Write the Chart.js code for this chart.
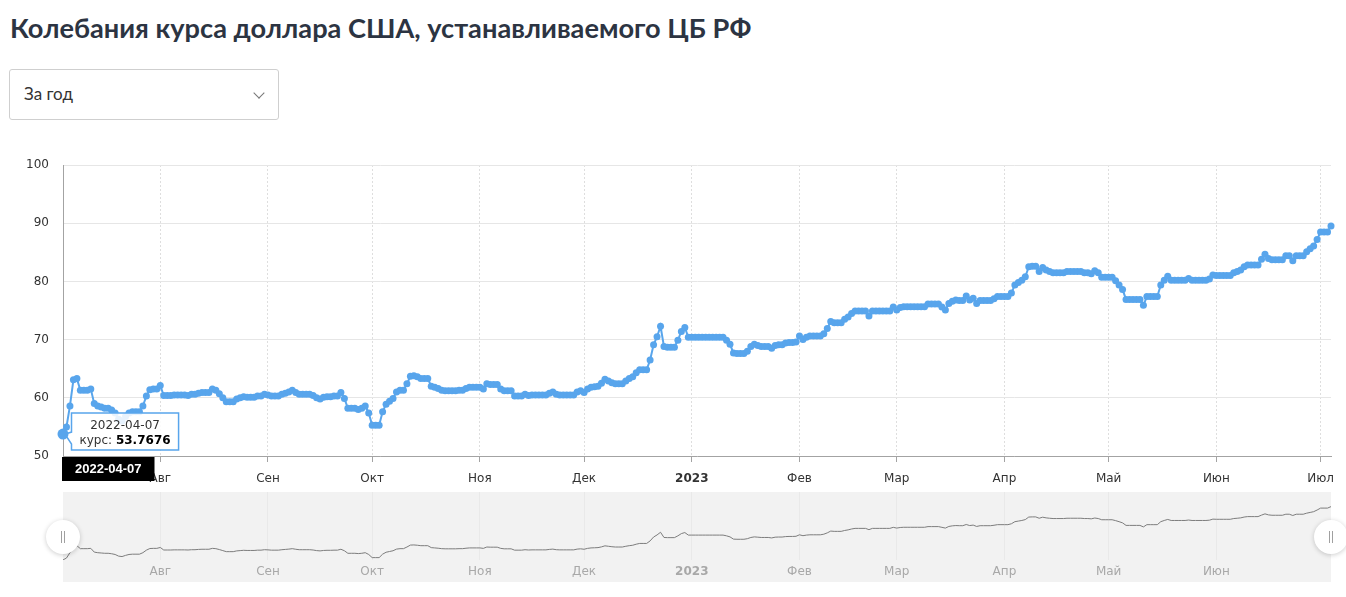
<!DOCTYPE html>
<html lang="ru">
<head>
<meta charset="utf-8">
<title>Колебания курса доллара США</title>
<script src="https://cdn.jsdelivr.net/npm/chart.js@4.4.1/dist/chart.umd.min.js"></script>
<style>
  html, body { margin: 0; padding: 0; background: #fff; }
  body { width: 1346px; height: 597px; position: relative; overflow: hidden; }
  h1 {
    position: absolute; left: 10px; top: 11px; margin: 0;
    font: 700 27.2px Lato, sans-serif; color: #2c3442; white-space: nowrap;
  }
  .period {
    position: absolute; left: 9px; top: 69px; width: 268px; height: 49px;
    border: 1px solid #cfcfcf; border-radius: 3px;
    font: 17px Lato, sans-serif; color: #333;
  }
  .period span { position: absolute; left: 14px; top: 13px; }
  .period i {
    position: absolute; left: 245px; top: 19px; width: 7px; height: 7px;
    border-right: 1px solid #777; border-bottom: 1px solid #777;
    transform: rotate(45deg);
  }
  #mainWrap { position: absolute; left: 0; top: 150px; }
  #navWrap { position: absolute; left: 0; top: 485px; }
</style>
</head>
<body>
<h1>Колебания курса доллара США, устанавливаемого ЦБ РФ</h1>
<div class="period"><span>За год</span><i></i></div>
<div id="mainWrap"><canvas id="rateChart" width="1346" height="340"></canvas></div>
<div id="navWrap"><canvas id="navChart" width="1346" height="112"></canvas></div>
<script>
// курс USD, ЦБ РФ, по дням начиная с 04.07.2022
const startDate = Date.UTC(2022, 6, 4);
const jul22 = [53.7676, 55.0, 58.6, 63.1, 63.3, 61.3, 61.3, 61.3, 61.5, 59.0, 58.6, 58.4, 58.2, 58.2,
    57.9, 57.4, 56.3, 56.0, 56.8, 57.4, 57.6, 57.6, 57.6, 58.6, 60.3, 61.4, 61.5, 61.5];
const aug22 = [62.1, 60.4, 60.4, 60.4, 60.5, 60.5, 60.5, 60.5, 60.4, 60.6, 60.6, 60.8, 60.9, 60.9, 60.9, 61.5,
    61.3, 60.7, 60.0, 59.3, 59.3, 59.3, 59.8, 60.0, 60.2, 60.1, 60.1, 60.1, 60.3, 60.3, 60.6];
const sep22 = [60.5, 60.3, 60.3, 60.3, 60.6, 60.8, 61.0, 61.3, 60.9, 60.6, 60.6, 60.6, 60.6, 60.4, 60.0,
    59.8, 60.1, 60.2, 60.2, 60.3, 60.3, 60.9, 59.9, 58.2, 58.2, 58.2, 58.0, 58.2, 58.6, 57.4];
const oct22 = [55.3, 55.3, 55.3, 57.6, 58.9, 59.4, 59.9, 61.0, 61.3, 61.3, 62.4, 63.7, 63.8, 63.6, 63.3, 63.3,
    63.3, 62.0, 61.8, 61.6, 61.3, 61.2, 61.2, 61.2, 61.2, 61.3, 61.3, 61.6, 61.8, 61.8, 61.8];
const nov22 = [61.8, 61.5, 62.4, 62.3, 62.3, 62.3, 61.5, 61.2, 61.2, 61.2, 60.3, 60.3, 60.3, 60.6, 60.4,
    60.5, 60.5, 60.5, 60.5, 60.5, 60.8, 61.0, 60.6, 60.5, 60.5, 60.5, 60.5, 60.5, 61.0, 61.2];
const dec22 = [60.9, 61.5, 61.8, 61.9, 62.0, 62.5, 63.2, 62.9, 62.6, 62.4, 62.4, 62.4, 62.9, 63.3, 63.6, 64.3,
    64.8, 64.8, 64.8, 66.5, 69.1, 70.5, 72.3, 68.8, 68.7, 68.7, 68.7, 69.9, 71.4, 72.1, 70.4];
const jan23 = [70.4, 70.4, 70.4, 70.4, 70.4, 70.4, 70.4, 70.4, 70.4, 70.4, 69.9, 69.2, 67.7, 67.6, 67.6, 67.6,
    68.0, 68.8, 69.2, 69.0, 68.8, 68.8, 68.8, 68.5, 69.0, 69.1, 69.1, 69.4, 69.5, 69.5, 69.6];
const feb23 = [70.6, 70.0, 70.4, 70.6, 70.6, 70.6, 70.6, 71.0, 71.9, 73.1, 72.9, 72.9, 72.9, 73.5, 73.9, 74.5,
    74.9, 74.9, 74.9, 74.9, 74.05, 74.9, 74.9, 74.9, 74.9, 74.9, 74.9, 75.6];
const mar23 = [75.1, 75.5, 75.65, 75.65, 75.65, 75.65, 75.65, 75.65, 75.65, 76.1, 76.1, 76.1, 76.1, 75.6, 75.1,
    76.2, 76.6, 76.8, 76.7, 76.7, 77.5, 76.8, 77.1, 76.2, 76.7, 76.7, 76.7, 76.7, 77.0, 77.4, 77.4];
const apr23 = [77.4, 77.4, 78.0, 79.4, 79.8, 80.2, 80.8, 82.5, 82.6, 82.6, 81.7, 82.4, 81.95, 81.7, 81.5,
    81.5, 81.5, 81.5, 81.7, 81.7, 81.7, 81.7, 81.7, 81.5, 81.5, 81.3, 81.85, 81.5, 80.7, 80.7];
const may23 = [80.7, 80.7, 80.1, 79.4, 78.6, 76.9, 76.9, 76.9, 76.9, 76.9, 75.9, 77.4, 77.4, 77.4, 77.4, 79.4,
    80.2, 80.9, 80.2, 80.2, 80.2, 80.2, 80.2, 80.5, 80.2, 80.2, 80.2, 80.2, 80.2, 80.4, 81.1];
const jun23 = [81.0, 81.0, 81.0, 81.0, 81.0, 81.5, 81.7, 81.95, 82.5, 82.8, 82.8, 82.8, 82.8, 83.8, 84.65,
    83.95, 83.7, 83.7, 83.7, 83.7, 84.4, 84.4, 83.55, 84.4, 84.4, 84.4, 85.1, 85.6, 86.1, 87.2];
const jul23 = [88.5, 88.5, 88.5, 89.5];

// начало месяцев (номер дня от startDate) и подписи
const monthTicks = [28, 59, 89, 120, 150, 181, 212, 240, 271, 301, 332, 362];
const monthLabels = ['Авг', 'Сен', 'Окт', 'Ноя', 'Дек', '2023', 'Фев', 'Мар', 'Апр', 'Май', 'Июн', 'Июл'];
const navTicks = monthTicks.slice(0, 11);
const navLabels = monthLabels.slice(0, 11);
const yTicks = [50, 60, 70, 80, 90, 100];

const rates = [].concat(jul22, aug22, sep22, oct22, nov22, dec22, jan23, feb23, mar23, apr23, may23, jun23, jul23);
const points = rates.map((v, i) => ({ x: i, y: v }));
const lastDay = rates.length - 1;
const HOVER = 0;

const BLUE = '#58a5ec';
const AXIS_FONT = 'DejaVu Sans';

function pad2(n) { return String(n).padStart(2, '0'); }
// на сайте дата выводится как ГГГГ-ДД-ММ
function fmtDate(i) {
    const d = new Date(startDate + i * 86400000);
    return `${d.getUTCFullYear()}-${pad2(d.getUTCDate())}-${pad2(d.getUTCMonth() + 1)}`;
}

const hoverPlugin = {
    id: 'hoverInfo',
    afterDraw(chart) {
        const { ctx, chartArea } = chart;
        const pt = chart.getDatasetMeta(0).data[HOVER];
        const px = pt.x, py = pt.y;
        const dateText = fmtDate(HOVER);

        ctx.save();
        // подпись перекрестия под осью
        ctx.font = `bold 13px "Liberation Sans", Arial, sans-serif`;
        const lw = ctx.measureText(dateText).width + 26;
        const lx = Math.max(px - lw / 2, chartArea.left - 1);
        ctx.fillStyle = '#000';
        ctx.fillRect(lx, chartArea.bottom + 1, lw, 24);
        ctx.fillStyle = '#fff';
        ctx.textAlign = 'center';
        ctx.textBaseline = 'middle';
        ctx.fillText(dateText, lx + lw / 2, chartArea.bottom + 13.5);

        // всплывающая подсказка
        const label = 'курс: ';
        const val = String(rates[HOVER]);
        ctx.font = `12px "${AXIS_FONT}"`;
        const w1 = ctx.measureText(label).width;
        const wTitle = ctx.measureText(dateText).width;
        ctx.font = `bold 12px "${AXIS_FONT}"`;
        const w2 = ctx.measureText(val).width;
        const bw = Math.max(w1 + w2, wTitle) + 16;
        const bh = 37;
        const bx = px + 8.5, by = py - 21;

        ctx.beginPath();
        ctx.moveTo(bx, by);
        ctx.lineTo(bx + bw, by);
        ctx.lineTo(bx + bw, by + bh);
        ctx.lineTo(bx, by + bh);
        ctx.lineTo(bx, py + 10);
        ctx.lineTo(px + 2, py);
        ctx.lineTo(bx, py - 2);
        ctx.closePath();
        ctx.fillStyle = 'rgba(255,255,255,0.86)';
        ctx.fill();
        ctx.lineWidth = 1.5;
        ctx.strokeStyle = BLUE;
        ctx.stroke();

        ctx.fillStyle = '#333';
        ctx.textBaseline = 'middle';
        ctx.textAlign = 'center';
        ctx.font = `12px "${AXIS_FONT}"`;
        ctx.fillText(dateText, bx + bw / 2, by + 12.5);
        ctx.textAlign = 'left';
        const tx = bx + (bw - w1 - w2) / 2;
        ctx.fillText(label, tx, by + 27.5);
        ctx.font = `bold 12px "${AXIS_FONT}"`;
        ctx.fillStyle = '#000';
        ctx.fillText(val, tx + w1, by + 27.5);

        // выделенная точка поверх подсказки
        ctx.beginPath();
        ctx.arc(px, py, 5.5, 0, Math.PI * 2);
        ctx.fillStyle = BLUE;
        ctx.fill();
        ctx.restore();
    }
};

new Chart(document.getElementById('rateChart'), {
    type: 'line',
    data: {
        datasets: [{
            label: 'курс',
            data: points,
            borderColor: BLUE,
            backgroundColor: BLUE,
            borderWidth: 2,
            pointRadius: 3.5,
            pointBorderWidth: 0,
            pointBackgroundColor: BLUE,
            tension: 0,
            clip: false
        }]
    },
    options: {
        responsive: false,
        animation: false,
        events: [],
        layout: { padding: { top: 15, right: 15, left: 0, bottom: 0 } },
        plugins: { legend: { display: false }, tooltip: { enabled: false } },
        scales: {
            x: {
                type: 'linear', min: 0, max: lastDay,
                afterBuildTicks: s => { s.ticks = monthTicks.map(v => ({ value: v })); },
                afterFit: s => { s.height = 34; },
                ticks: {
                    autoSkip: false, maxRotation: 0, padding: 10, color: '#333',
                    callback: (v, i) => monthLabels[i],
                    font: c => ({ family: AXIS_FONT, size: 12, weight: c.tick && c.tick.value === 181 ? 'bold' : 'normal' })
                },
                grid: { color: '#dedede', tickColor: '#a3a3a3', tickLength: 6, tickBorderDash: [] },
                border: { color: '#a3a3a3', width: 1, dash: [2, 2] }
            },
            y: {
                min: 50, max: 100,
                afterBuildTicks: s => { s.ticks = yTicks.map(v => ({ value: v })); },
                afterFit: s => { s.width = 63; s.paddingTop = 0; s.paddingBottom = 0; },
                ticks: { padding: 14, color: '#333', font: { family: AXIS_FONT, size: 12 } },
                grid: { color: '#e6e6e6', drawTicks: false },
                border: { color: '#a3a3a3', width: 1 }
            }
        }
    },
    plugins: [hoverPlugin]
});

const navPlugin = {
    id: 'navBand',
    beforeDraw(chart) {
        const { ctx, chartArea } = chart;
        const xs = chart.scales.x;
        ctx.save();
        ctx.fillStyle = '#f2f2f2';
        ctx.fillRect(chartArea.left, chartArea.top, chartArea.right - chartArea.left, xs.bottom - chartArea.top);
        ctx.restore();
    },
    afterDraw(chart) {
        const { ctx, chartArea } = chart;
        const cy = (chartArea.top + chart.scales.x.bottom) / 2;
        [chartArea.left, chartArea.right].forEach(hx => {
            ctx.save();
            ctx.shadowColor = 'rgba(0,0,0,0.2)';
            ctx.shadowBlur = 5;
            ctx.shadowOffsetY = 1;
            ctx.beginPath();
            ctx.arc(hx, cy, 17, 0, Math.PI * 2);
            ctx.fillStyle = '#fff';
            ctx.fill();
            ctx.restore();
            ctx.save();
            ctx.strokeStyle = '#a0a0a0';
            ctx.lineWidth = 1;
            ctx.beginPath();
            ctx.moveTo(hx - 1.5, cy - 6); ctx.lineTo(hx - 1.5, cy + 6);
            ctx.moveTo(hx + 1.5, cy - 6); ctx.lineTo(hx + 1.5, cy + 6);
            ctx.stroke();
            ctx.restore();
        });
    }
};

new Chart(document.getElementById('navChart'), {
    type: 'line',
    data: {
        datasets: [{
            data: points,
            borderColor: '#7d7d7d',
            borderWidth: 1,
            pointRadius: 0,
            tension: 0
        }]
    },
    options: {
        responsive: false,
        animation: false,
        events: [],
        layout: { padding: { top: 7, right: 15, left: 63, bottom: 15 } },
        plugins: { legend: { display: false }, tooltip: { enabled: false } },
        scales: {
            x: {
                type: 'linear', min: 0, max: lastDay,
                afterBuildTicks: s => { s.ticks = navTicks.map(v => ({ value: v })); },
                afterFit: s => { s.height = 22; },
                ticks: {
                    autoSkip: false, maxRotation: 0, padding: 5, color: '#a8a8a8',
                    callback: (v, i) => navLabels[i],
                    font: c => ({ family: AXIS_FONT, size: 12, weight: c.tick && c.tick.value === 181 ? 'bold' : 'normal' })
                },
                grid: { color: '#e9e9e9', drawTicks: false },
                border: { display: false }
            },
            y: { display: false, min: 53.7, max: 99.3 }
        }
    },
    plugins: [navPlugin]
});
</script>
</body>
</html>
